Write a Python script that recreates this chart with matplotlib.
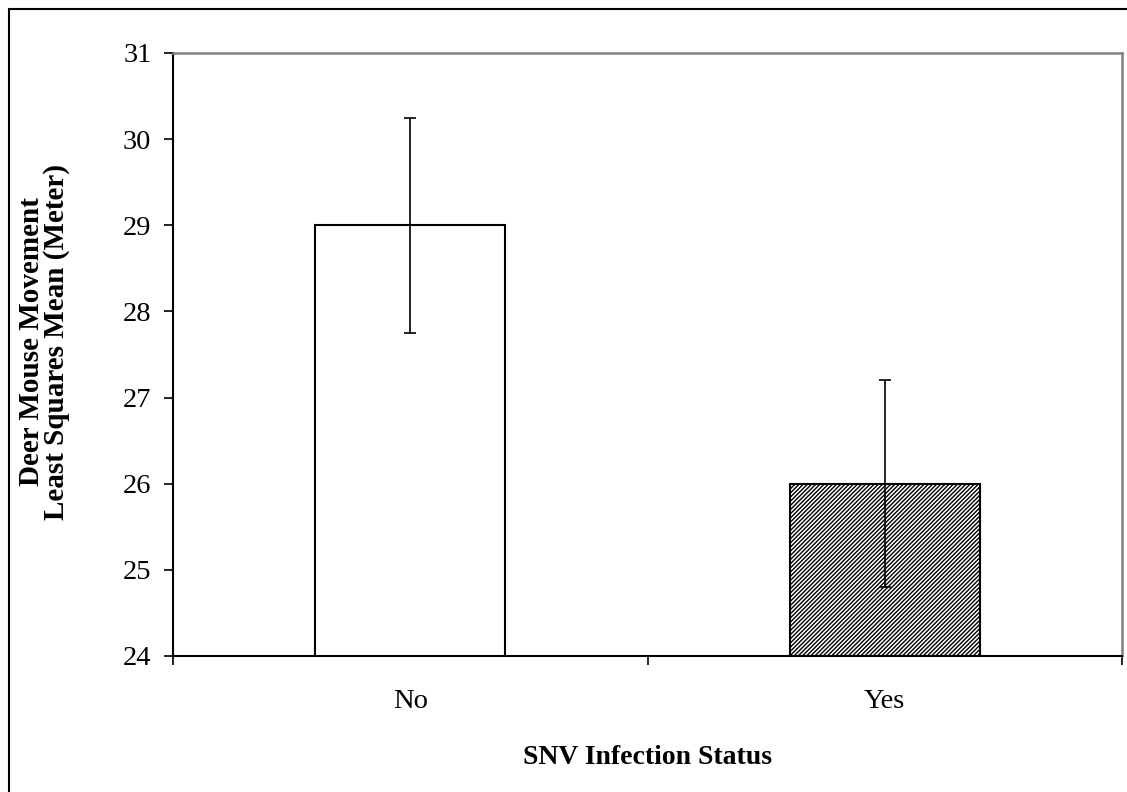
import matplotlib
matplotlib.use("Agg")
import matplotlib.pyplot as plt
from matplotlib.patches import Rectangle

# data
categories = ["No", "Yes"]
means = [29.0, 26.0]
errors = [1.25, 1.2]
y_ticks = [24, 25, 26, 27, 28, 29, 30, 31]

plt.rcParams["font.family"] = ["Liberation Serif", "DejaVu Serif"]
plt.rcParams["hatch.linewidth"] = 1.0
plt.rcParams["hatch.color"] = "#505050"

fig = plt.figure(figsize=(11.27, 7.92), dpi=100)
ax = fig.add_axes([173 / 1127, 1 - 656 / 792, (1122 - 173) / 1127, (656 - 53) / 792])

x = list(range(len(categories)))
ax.bar(x[0], means[0], width=0.40, bottom=0, color="white", edgecolor="black", linewidth=1.5)
ax.bar(x[1], means[1], width=0.40, bottom=0, color="white", edgecolor="black",
       linewidth=1.5, hatch="////////")
ax.errorbar(x, means, yerr=errors, fmt="none", ecolor="black", elinewidth=1.2,
            capsize=4.5, capthick=1.2)

ax.set_ylim(24, 31)
ax.set_xlim(-0.5, 1.5)
ax.set_yticks(y_ticks)
ax.set_yticklabels([str(v) for v in y_ticks], fontsize=20.5)

# category boundaries carry the ticks, labels sit in the middle
ax.set_xticks([-0.5, 0.5, 1.5])
ax.set_xticklabels([])
ax.set_xticks(x, minor=True)
ax.set_xticklabels(categories, minor=True, fontsize=20.5)
ax.tick_params(axis="x", which="minor", length=0, pad=24)
ax.tick_params(axis="both", which="major", direction="out", length=6.5, width=1.2, color="black")
ax.tick_params(axis="y", pad=9)

for side in ["left", "bottom"]:
    ax.spines[side].set_color("black")
    ax.spines[side].set_linewidth(1.5)
for side in ["top", "right"]:
    ax.spines[side].set_color("#808080")
    ax.spines[side].set_linewidth(1.8)

ax.set_xlabel("SNV Infection Status", fontsize=20, fontweight="bold", labelpad=22)
ax.set_ylabel("Deer Mouse Movement\nLeast Squares Mean (Meter)", fontsize=21,
              fontweight="bold", linespacing=0.85)
ax.yaxis.set_label_coords(-0.109, 0.521)

# outer frame of the chart area
fig.patches.append(Rectangle((9 / 1127, -0.1), 1.2, 1 - 9 / 792 + 0.1, transform=fig.transFigure,
                             fill=False, edgecolor="black", linewidth=1.5))

fig.savefig("out.png", dpi=100)
